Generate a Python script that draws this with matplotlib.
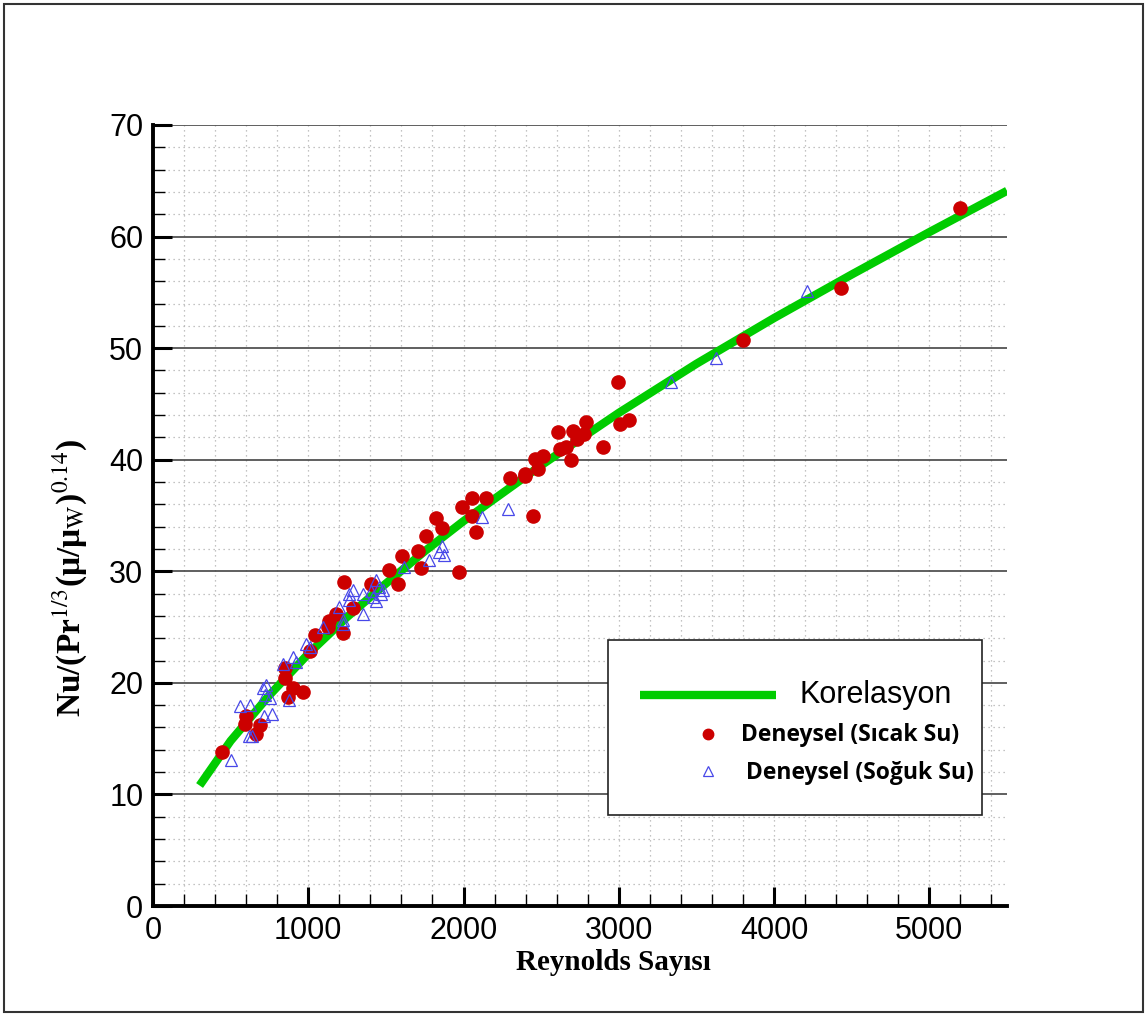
import matplotlib
matplotlib.use("Agg")
import matplotlib.pyplot as plt
import matplotlib.transforms as mtransforms
from matplotlib.patches import Rectangle
from matplotlib.ticker import MultipleLocator

plt.rcParams["mathtext.fontset"] = "stix"

# correlation curve
re_kor = [300, 500, 750, 1000, 1250, 1500, 1750, 2000, 2500, 3000, 3500, 4000, 4500, 5000, 5500]
nu_kor = [10.8, 14.8, 18.9, 22.6, 25.9, 28.9, 31.8, 34.5, 39.5, 44.2, 48.6, 52.7, 56.6, 60.4, 64.1]

# experimental, hot water (red circles)
re_sicak = [447, 597, 595, 691, 661, 847, 847, 901, 969, 868, 1044, 1014, 1136, 1125,
            1221, 1232, 1179, 1286, 1404, 1521, 1577, 1603, 1709, 1727, 1757, 1825,
            1859, 1970, 1988, 2052, 2056, 2080, 2144, 2296, 2394, 2398, 2447, 2458,
            2479, 2510, 2608, 2623, 2659, 2689, 2704, 2732, 2773, 2786, 2895, 2993,
            3006, 3068, 3800, 4431, 5195]
nu_sicak = [13.8, 17.0, 16.3, 16.2, 15.4, 21.3, 20.4, 19.5, 19.2, 18.7, 24.3, 22.9, 25.5, 25.0,
            24.5, 29.0, 26.2, 26.7, 28.9, 30.1, 28.9, 31.4, 31.8, 30.3, 33.2, 34.8,
            33.9, 29.9, 35.8, 35.0, 36.6, 33.5, 36.6, 38.4, 38.5, 38.7, 35.0, 40.1,
            39.2, 40.3, 42.5, 41.0, 41.1, 40.0, 42.6, 41.9, 42.3, 43.4, 41.1, 47.0,
            43.2, 43.6, 50.7, 55.4, 62.6]

# experimental, cold water (blue triangles)
re_soguk = [505, 558, 623, 618, 640, 708, 730, 719, 751, 714, 768, 836, 879, 901, 922,
            987, 1008, 1093, 1200, 1221, 1221, 1264, 1264, 1286, 1350, 1350, 1404, 1414,
            1436, 1436, 1457, 1470, 1480, 1617, 1778, 1842, 1863, 1874, 2120, 2285,
            3337, 3628, 4213]
nu_soguk = [13.1, 17.9, 18.0, 15.2, 15.2, 19.5, 19.8, 18.9, 18.6, 17.0, 17.2, 21.7, 18.5, 22.3, 21.9,
            23.5, 23.2, 25.0, 26.8, 25.6, 25.3, 27.4, 28.0, 28.3, 26.2, 28.0, 28.2, 27.7,
            29.2, 27.3, 28.6, 28.0, 28.3, 30.4, 31.0, 31.7, 32.3, 31.5, 34.9, 35.6,
            47.0, 49.1, 55.1]

fig = plt.figure(figsize=(11.45, 10.15), dpi=100)
ax = fig.add_axes([153/1145, 1 - 906/1015, 854/1145, 781/1015])

ax.plot(re_kor, nu_kor, "-", color="#00cc00", lw=6, solid_capstyle="butt",
        solid_joinstyle="round", label="Korelasyon", zorder=3)
ax.plot(re_sicak, nu_sicak, "o", ms=9.5, mfc="#cc0000", mec="#cc0000",
        label="Deneysel (Sıcak Su)", zorder=4)
ax.plot(re_soguk, nu_soguk, "^", ms=9, mfc="none", mec="#4848e8", mew=0.9,
        label="Deneysel (Soğuk Su)", zorder=5)

ax.set_xlim(0, 5500)
ax.set_ylim(0, 70)
ax.xaxis.set_major_locator(MultipleLocator(1000))
ax.xaxis.set_minor_locator(MultipleLocator(200))
ax.yaxis.set_major_locator(MultipleLocator(10))
ax.yaxis.set_minor_locator(MultipleLocator(2))

# grids: dotted everywhere, solid horizontal at the major y ticks
ax.grid(which="minor", axis="both", ls=(0, (1, 3)), color="#b0b0b0", lw=0.9)
ax.grid(which="major", axis="x", ls=(0, (1, 3)), color="#b0b0b0", lw=0.9)
ax.grid(which="major", axis="y", ls="-", color="#444444", lw=1.2)
ax.set_axisbelow(True)

for s in ["top", "right"]:
    ax.spines[s].set_visible(False)
for s in ["left", "bottom"]:
    ax.spines[s].set_linewidth(2.8)

ax.tick_params(which="major", direction="in", length=14, width=2.2,
               labelsize=22, pad=7)
ax.tick_params(which="minor", direction="in", length=8.5, width=1.0)
for lab in ax.get_xticklabels() + ax.get_yticklabels():
    lab.set_family("Liberation Sans")

# axis titles
fig.text(70/1145, 1 - 578/1015,
         r"Nu/(Pr$^{1/3}$(μ/μ$_{\mathrm{W}}$)$^{0.14}$)",
         rotation=90, ha="center", va="center", fontsize=24,
         family="Liberation Serif", weight="bold")
fig.text(613/1145, 1 - 963/1015, "Reynolds Sayısı", ha="center", va="center",
         fontsize=21, family="Liberation Serif", weight="bold")

# legend box
ax.add_patch(Rectangle((0.533, 0.1165), 0.438, 0.224, transform=ax.transAxes,
                       facecolor="white", edgecolor="#222222", lw=1.2, zorder=6))
leg = ax.legend(loc="upper left", bbox_to_anchor=((640 - 153)/854, (906 - 680)/781),
                frameon=False, borderpad=0, borderaxespad=0, fontsize=16,
                handlelength=6.1, handletextpad=1.1, labelspacing=0.6)
leg.set_zorder(7)
leg.legend_handles[1].set_markersize(7.5)
leg.legend_handles[2].set_markersize(6.5)
texts = leg.get_texts()
texts[0].set_fontproperties({"family": "Liberation Sans", "size": 22})
for t in texts[1:]:
    t.set_fontproperties({"family": "Open Sans", "weight": "bold", "size": 16.5})
texts[1].set_transform(texts[1].get_transform() + mtransforms.Affine2D().translate(-59, 0))
texts[2].set_transform(texts[2].get_transform() + mtransforms.Affine2D().translate(-54, 0))

# outer frame of the picture
fig.add_artist(Rectangle((4/1145, 3/1015), 1139/1145, 1008/1015, transform=fig.transFigure,
                         fill=False, edgecolor="#333333", lw=1.5))

fig.savefig("out.png", dpi=100)
